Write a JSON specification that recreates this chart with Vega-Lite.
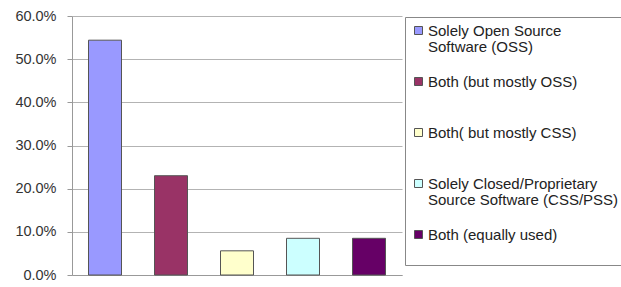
{
  "$schema": "https://vega.github.io/schema/vega-lite/v6.json",
  "autosize": "none",
  "width": 330,
  "height": 259,
  "padding": {"left": 72, "top": 16, "right": 219, "bottom": 12},
  "background": "white",
  "config": {"view": {"stroke": null}, "font": "Liberation Sans"},
  "data": {"values": [
    {"category": "Solely Open Source Software (OSS)", "share": 0.544},
    {"category": "Both (but mostly OSS)", "share": 0.230},
    {"category": "Both( but mostly CSS)", "share": 0.056},
    {"category": "Solely Closed/Proprietary Source Software (CSS/PSS)", "share": 0.085},
    {"category": "Both (equally used)", "share": 0.085}
  ]},
  "mark": {"type": "bar", "stroke": "#555555", "strokeWidth": 1},
  "encoding": {
    "x": {"field": "category", "type": "nominal", "sort": null,
      "scale": {"paddingInner": 0.5, "paddingOuter": 0.25},
      "axis": {"labels": false, "ticks": false, "title": null, "domain": true, "domainColor": "#999999", "grid": false}},
    "y": {"field": "share", "type": "quantitative",
      "scale": {"domain": [0, 0.6], "nice": false},
      "axis": {"values": [0, 0.1, 0.2, 0.3, 0.4, 0.5, 0.6], "format": ".1%", "title": null,
        "labelFontSize": 14.5, "labelColor": "#333333", "labelPadding": 11, "tickSize": 5,
        "tickColor": "#999999", "domainColor": "#999999", "gridColor": "#b3b3b3", "labelFont": "Liberation Sans"}},
    "fill": {"field": "category", "type": "nominal",
      "scale": {
        "domain": ["Solely Open Source Software (OSS)", "Both (but mostly OSS)", "Both( but mostly CSS)", "Solely Closed/Proprietary Source Software (CSS/PSS)", "Both (equally used)"],
        "range": ["#9999FF", "#993366", "#FFFFCC", "#CCFFFF", "#660066"]},
      "legend": {
        "title": null, "orient": "none", "legendX": 333, "legendY": 1,
        "strokeColor": "#888888", "padding": 6,
        "symbolType": "square", "symbolSize": 64, "symbolStrokeColor": "#555555", "symbolStrokeWidth": 1,
        "labelFontSize": 15, "labelColor": "#222222", "labelFont": "Liberation Sans",
        "labelLimit": 300, "labelOffset": 2, "rowPadding": 19,
        "encode": {"labels": {"update": {"lineHeight": {"value": 16}}}},
        "labelExpr": "datum.label == 'Solely Open Source Software (OSS)' ? ['Solely Open Source', 'Software (OSS)'] : datum.label == 'Solely Closed/Proprietary Source Software (CSS/PSS)' ? ['Solely Closed/Proprietary', 'Source Software (CSS/PSS)'] : [datum.label, ' ']"
      }}
  }
}
